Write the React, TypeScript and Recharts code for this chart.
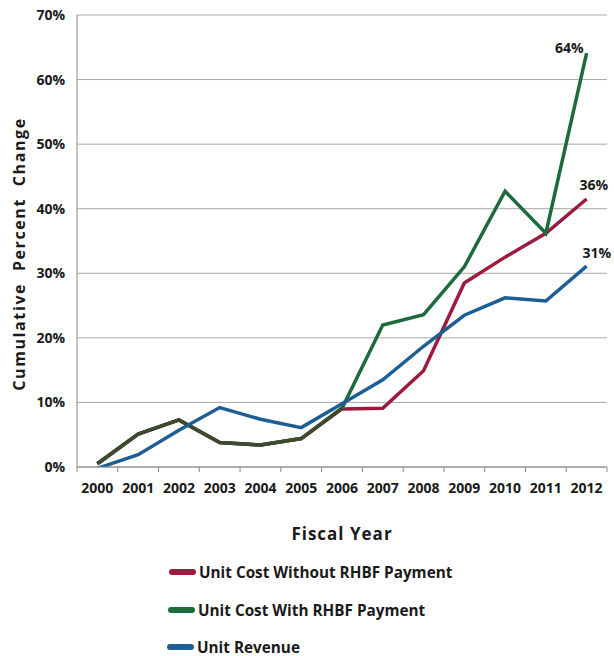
import React from 'react';
import { LineChart, Line, XAxis, YAxis, CartesianGrid, LabelList } from 'recharts';

const years = [2000, 2001, 2002, 2003, 2004, 2005, 2006, 2007, 2008, 2009, 2010, 2011, 2012];
const unitCostWithout = [0.5, 5.1, 7.3, 3.8, 3.4, 4.4, 9.0, 9.1, 14.9, 28.5, 32.5, 36.2, 41.5];
const unitCostWith = [0.5, 5.1, 7.3, 3.8, 3.4, 4.4, 9.1, 22.0, 23.6, 31.0, 42.7, 36.2, 64.1];
const unitRevenue = [-0.2, 1.9, 5.7, 9.2, 7.4, 6.1, 9.8, 13.5, 18.7, 23.5, 26.2, 25.7, 31.1];
const sharedUntilIndex = 6;
const yTicks = [0, 10, 20, 30, 40, 50, 60, 70];
const endLabels = { without: '36%', with: '64%', revenue: '31%' };
const seriesNames = ['Unit Cost Without RHBF Payment', 'Unit Cost With RHBF Payment', 'Unit Revenue'];
const xTitle = 'Fiscal Year';
const yTitle = 'Cumulative Percent Change';

const RED = '#9b1b3d';
const GREEN = '#1c6b3c';
const BLUE = '#1d5e97';
const OLIVE = '#3d4a2c';

const data = years.map((year, i) => ({
  year,
  without: unitCostWithout[i],
  with: unitCostWith[i],
  shared: i <= sharedUntilIndex ? unitCostWith[i] : null,
  revenue: unitRevenue[i],
}));

const xTicks: number[] = [];
years.forEach((y) => {
  xTicks.push(y - 0.5);
  xTicks.push(y);
});
xTicks.push(years[years.length - 1] + 0.5);

const FONT = '"Open Sans", "Noto Sans", sans-serif';

const XTick = (props: any) => {
  const { x, y, payload } = props;
  const v = payload.value;
  if (Number.isInteger(v)) {
    return (
      <text x={x} y={y + 26} textAnchor="middle" fontFamily={FONT} fontWeight={700} fontSize={14} fill="#1a1a1a">
        {v}
      </text>
    );
  }
  return <line x1={x} x2={x} y1={y} y2={y + 5} stroke="#888" strokeWidth={1} />;
};

const YTitle = () => (
  <text
    x={25}
    y={254}
    transform="rotate(-90 25 254)"
    textAnchor="middle"
    fontFamily={FONT}
    fontWeight={700}
    fontSize={16}
    fill="#1a1a1a"
    style={{ letterSpacing: 1.6, wordSpacing: 6 }}
  >
    {yTitle}
  </text>
);

const makeEndLabel = (text: string, dx: number, dy: number, anchor: string) => (props: any) => {
  const { x, y, index } = props;
  if (index !== years.length - 1) return null;
  return (
    <text x={x + dx} y={y + dy} textAnchor={anchor} fontFamily={FONT} fontWeight={700} fontSize={14} fill="#1a1a1a">
      {text}
    </text>
  );
};

const legendRows = [
  { name: seriesNames[0], color: RED, top: 572, left: 169 },
  { name: seriesNames[1], color: GREEN, top: 610, left: 168 },
  { name: seriesNames[2], color: BLUE, top: 647, left: 167 },
];

export default function App() {
  return (
    <div style={{ position: 'absolute', left: 0, top: 0, width: 614, height: 656, background: '#fff', overflow: 'hidden' }}>
      <LineChart width={614} height={560} data={data} margin={{ top: 15, right: 7, left: 0, bottom: 13 }}>
        <CartesianGrid vertical={false} stroke="#a8a8a8" strokeWidth={1} />
        <XAxis
          dataKey="year"
          type="number"
          domain={[1999.5, 2012.5]}
          ticks={xTicks}
          interval={0}
          allowDecimals
          height={80}
          tickSize={0}
          tickMargin={0}
          tickLine={false}
          axisLine={{ stroke: '#888' }}
          tick={<XTick />}
          label={{
            value: xTitle,
            position: 'insideBottom',
            offset: 7,
            style: { fontFamily: FONT, fontWeight: 700, fontSize: 17, fill: '#1a1a1a', letterSpacing: 1 },
          }}
        />
        <YAxis
          type="number"
          domain={[0, 70]}
          ticks={yTicks}
          allowDataOverflow
          width={77}
          tickSize={0}
          tickMargin={12}
          tickLine={false}
          axisLine={{ stroke: '#888' }}
          tickFormatter={(v: number) => `${v}%`}
          tick={{ fontFamily: FONT, fontWeight: 700, fontSize: 14, fill: '#1a1a1a' }}
          label={<YTitle />}
        />
        <Line type="linear" dataKey="without" stroke={RED} strokeWidth={3.5} dot={false} isAnimationActive={false}>
          <LabelList dataKey="without" content={makeEndLabel(endLabels.without, -7, -9, 'start')} />
        </Line>
        <Line type="linear" dataKey="with" stroke={GREEN} strokeWidth={3.5} dot={false} isAnimationActive={false}>
          <LabelList dataKey="with" content={makeEndLabel(endLabels.with, -3, 0, 'end')} />
        </Line>
        <Line type="linear" dataKey="shared" stroke={OLIVE} strokeWidth={3.5} dot={false} isAnimationActive={false} connectNulls={false} legendType="none" />
        <Line type="linear" dataKey="revenue" stroke={BLUE} strokeWidth={3.5} dot={false} isAnimationActive={false}>
          <LabelList dataKey="revenue" content={makeEndLabel(endLabels.revenue, -4, -8, 'start')} />
        </Line>
      </LineChart>
      {legendRows.map((r) => (
        <div
          key={r.name}
          style={{
            position: 'absolute',
            left: r.left,
            top: r.top - 11,
            height: 22,
            display: 'flex',
            alignItems: 'center',
            whiteSpace: 'nowrap',
          }}
        >
          <span style={{ display: 'inline-block', width: 27, height: 6, borderRadius: 3, background: r.color, marginRight: 3 }} />
          <span style={{ fontFamily: FONT, fontWeight: 700, fontSize: 15.3, color: '#1a1a1a' }}>{r.name}</span>
        </div>
      ))}
    </div>
  );
}
